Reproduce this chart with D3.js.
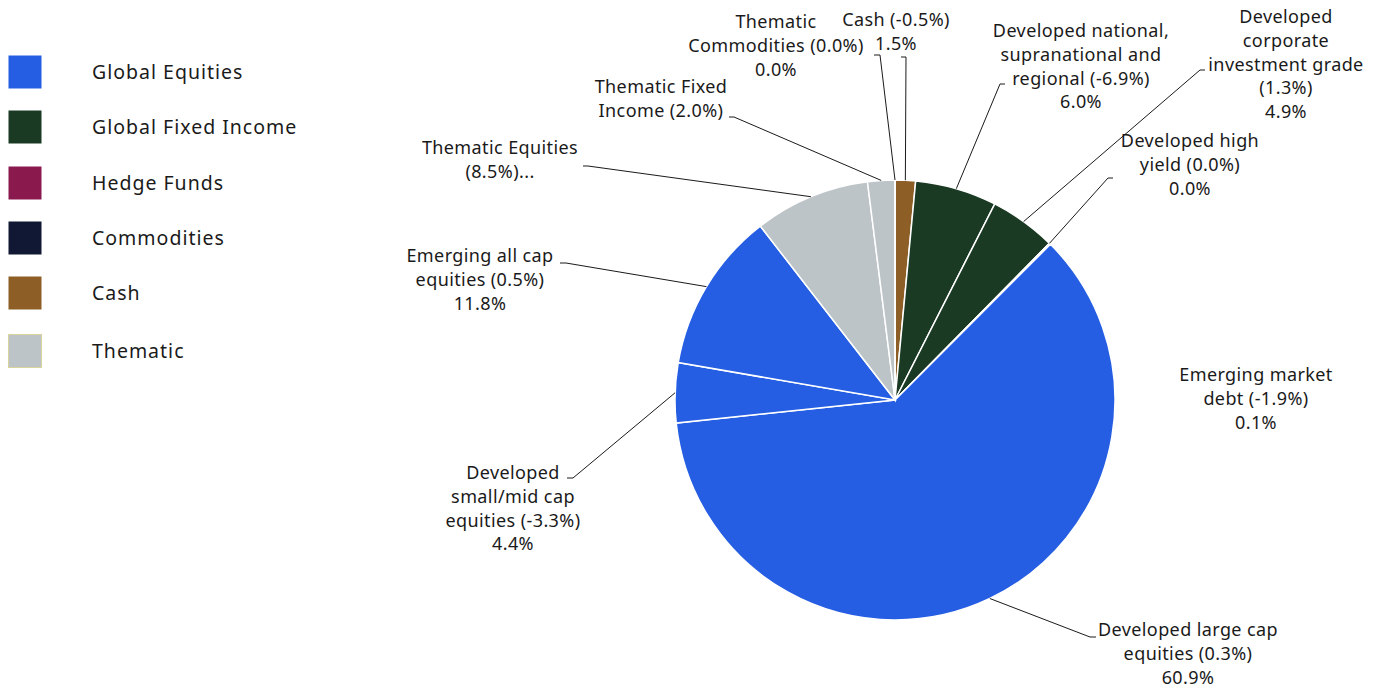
<!DOCTYPE html>
<html>
<head>
<meta charset="utf-8">
<script src="https://cdn.jsdelivr.net/npm/d3@7"></script>
<style>
  body { margin: 0; background: #fff; }
  text { font-family: "Noto Sans", sans-serif; fill: #1a1a1a; }
</style>
</head>
<body>
<script>
// slice data, clockwise from 12 o'clock
var sliceNames = [
    'Cash (-0.5%)',
    'Developed national,|supranational and|regional (-6.9%)',
    'Developed|corporate|investment grade|(1.3%)',
    'Developed high|yield (0.0%)',
    'Emerging market|debt (-1.9%)',
    'Developed large cap|equities (0.3%)',
    'Developed|small/mid cap|equities (-3.3%)',
    'Emerging all cap|equities (0.5%)',
    'Thematic Equities|(8.5%)...',
    'Thematic Fixed|Income (2.0%)',
    'Thematic|Commodities (0.0%)'
];
var sliceValues = [1.5, 6.0, 4.9, 0.0, 0.1, 60.9, 4.4, 11.8, 8.5, 2.0, 0.0];
var sliceGroups = ['Cash', 'Global Fixed Income', 'Global Fixed Income', 'Global Fixed Income',
    'Global Fixed Income', 'Global Equities', 'Global Equities', 'Global Equities',
    'Thematic', 'Thematic', 'Thematic'];
var showValue = [true, true, true, true, true, true, true, true, false, false, true];

var legendNames = ['Global Equities', 'Global Fixed Income', 'Hedge Funds', 'Commodities', 'Cash', 'Thematic'];
var legendColors = ['#255ee3', '#1b3a24', '#8a1a4e', '#111833', '#8d5e25', '#bcc4c8'];

// label layout: text centre x, first baseline y, connector end (ex, ey), tick direction
var labelLayout = [
    {x: 896, y: 26, ex: 906, ey: 57, dx: -5},
    {x: 1081, y: 37, ex: 1000, ey: 84, dx: 5},
    {x: 1286, y: 23, ex: 1200, ey: 70, dx: 5},
    {x: 1190, y: 147, ex: 1108, ey: 178, dx: 5},
    {x: 1256, y: 381, ex: null},
    {x: 1188, y: 636, ex: 1090, ey: 637, dx: 6},
    {x: 513, y: 479, ex: 573, ey: 478, dx: -6},
    {x: 480, y: 262, ex: 566, ey: 263, dx: -6},
    {x: 500, y: 154, ex: 588, ey: 166, dx: -5},
    {x: 661, y: 93, ex: 734, ey: 117, dx: -5},
    {x: 776, y: 28, ex: 880, ey: 55, dx: -6}
];

var width = 1378, height = 688;
var cx = 895, cy = 400, radius = 220;
var lineH = 23.8;

var svg = d3.select('body').append('svg')
    .attr('width', width)
    .attr('height', height);

var color = d3.scaleOrdinal()
    .domain(legendNames)
    .range(legendColors);

var data = sliceValues.map(function(v, i) {
    return {name: sliceNames[i], value: v, group: sliceGroups[i], i: i};
});

var pie = d3.pie()
    .sort(null)
    .value(function(d) { return d.value; });

var arc = d3.arc().innerRadius(0).outerRadius(radius);
var edgeArc = d3.arc().innerRadius(radius).outerRadius(radius);

var arcs = pie(data);

var g = svg.append('g')
    .attr('transform', 'translate(' + cx + ',' + cy + ')');

g.selectAll('path.slice')
    .data(arcs)
    .enter().append('path')
    .attr('class', 'slice')
    .attr('d', arc)
    .attr('fill', function(d) { return color(d.data.group); })
    .attr('stroke', '#fff')
    .attr('stroke-width', 1.5);

// connectors
svg.selectAll('path.conn')
    .data(arcs.filter(function(d) { return labelLayout[d.data.i].ex !== null; }))
    .enter().append('path')
    .attr('class', 'conn')
    .attr('fill', 'none')
    .attr('stroke', '#1a1a1a')
    .attr('stroke-width', 1)
    .attr('d', function(d) {
        var L = labelLayout[d.data.i];
        var p = edgeArc.centroid(d);
        return 'M' + (cx + p[0]) + ',' + (cy + p[1]) + 'L' + L.ex + ',' + L.ey + 'L' + (L.ex + L.dx) + ',' + L.ey;
    });

// labels
var labels = svg.selectAll('text.lbl')
    .data(arcs)
    .enter().append('text')
    .attr('class', 'lbl')
    .attr('text-anchor', 'middle')
    .attr('font-size', 18)
    .attr('letter-spacing', 0.4);

labels.each(function(d) {
    var L = labelLayout[d.data.i];
    var lines = d.data.name.split('|');
    if (showValue[d.data.i]) lines.push(d.data.value.toFixed(1) + '%');
    d3.select(this).selectAll('tspan')
        .data(lines)
        .enter().append('tspan')
        .attr('x', L.x)
        .attr('y', function(t, k) { return L.y + k * lineH; })
        .text(function(t) { return t; });
});

// legend
var legend = svg.selectAll('g.legend')
    .data(legendNames)
    .enter().append('g')
    .attr('class', 'legend')
    .attr('transform', function(d, i) {
        var ys = [72, 127, 183, 238, 293, 351];
        return 'translate(0,' + ys[i] + ')';
    });

legend.append('rect')
    .attr('x', 8.5)
    .attr('y', -16.5)
    .attr('width', 33)
    .attr('height', 33)
    .attr('fill', function(d) { return color(d); })
    .attr('stroke', function(d) { return d === 'Thematic' ? '#d8d49a' : 'none'; })
    .attr('stroke-width', 1);

legend.append('text')
    .attr('x', 92)
    .attr('y', 7)
    .attr('font-size', 19.5)
    .attr('letter-spacing', 1)
    .text(function(d) { return d; });
</script>
</body>
</html>
